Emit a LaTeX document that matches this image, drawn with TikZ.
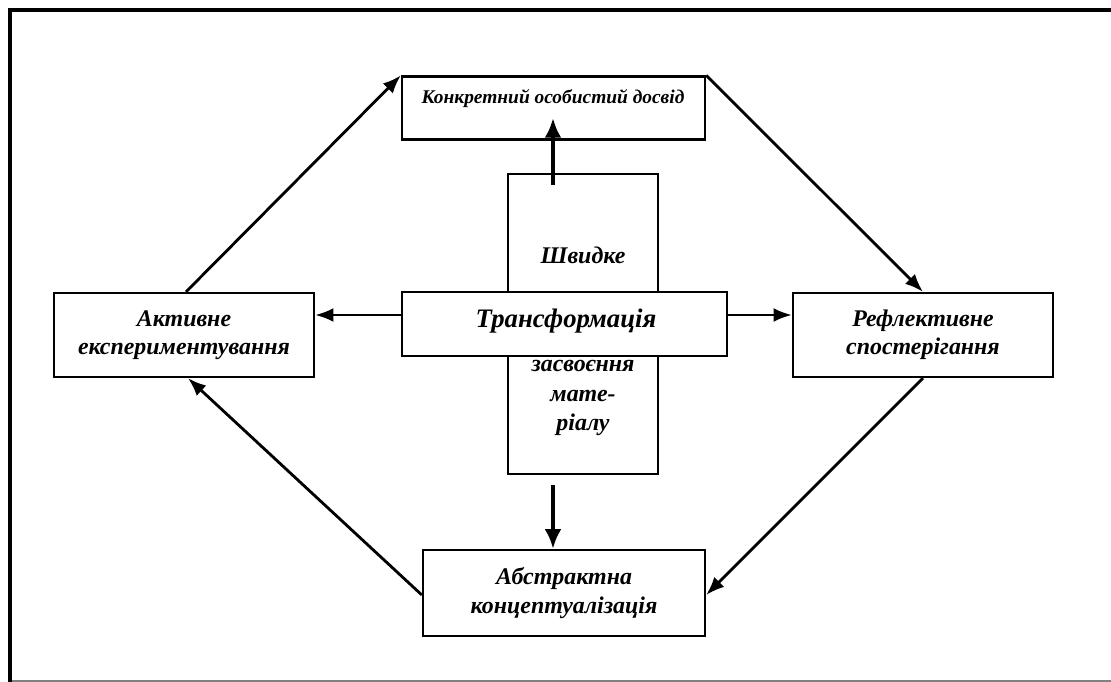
\documentclass[tikz,border=0pt]{standalone}
\usepackage{fontspec}
\setmainfont{Liberation Serif}
\usetikzlibrary{arrows.meta}
\tikzset{
  box/.style={draw,line width=1.6pt,fill=white,inner sep=0pt},
  txt/.style={font=\bfseries\itshape\fontsize{17}{20}\selectfont,align=center},
  arr/.style={line width=2pt,-{Latex[length=13pt,width=10pt]}},
  tharr/.style={line width=3pt,-{Latex[length=14pt,width=12pt]}}
}
\begin{document}
\begin{tikzpicture}[x=0.025cm,y=-0.025cm]
  \useasboundingbox (0,0) rectangle (1111,682);
  % frame
  \draw[line width=3.5pt] (10,682)--(10,10)--(1111,10);
  \draw[gray,line width=0.8pt] (12,681)--(1111,681);
  % boxes
  \node[box,minimum width=7.575cm,minimum height=1.575cm] (top) at (553.5,108) {};
  \node[txt,font=\bfseries\itshape\fontsize{13.8}{17}\selectfont] (toptxt) at (553,99) {Конкретний особистий досвід};
  \node[box,minimum width=3.75cm,minimum height=7.5cm] (vert) at (583,324) {};
  \node[txt] (fast) at (583,255) {Швидке};
  \node[txt,font=\bfseries\itshape\fontsize{17}{21}\selectfont] (rest) at (583,398) {засвоєння\\мате-\\ріалу};
  \node[box,minimum width=8.125cm,minimum height=1.6cm] (trans) at (564.5,324) {};
  \node[txt,font=\bfseries\itshape\fontsize{19}{22}\selectfont] (transtxt) at (566,321) {Трансформація};
  \node[box,txt,minimum width=6.5cm,minimum height=2.1cm] (act) at (184,335) {Активне\\експериментування};
  \node[box,txt,minimum width=6.5cm,minimum height=2.1cm] (refl) at (923,335) {Рефлективне\\спостерігання};
  \node[box,txt,minimum width=7.05cm,minimum height=2.15cm] (abs) at (564,593) {Абстрактна\\концептуалізація};
  % arrows
  \coordinate (upend) at (553,118);
  \draw[tharr] (553,185) -- (upend);
  \draw[tharr] (553,485) -- (abs.north -| 553,0);
  \draw[arr] ([yshift=0.225cm]trans.west) -- ([yshift=0.225cm]trans.west -| act.east);
  \draw[arr] ([yshift=0.225cm]trans.east) -- ([yshift=0.225cm]trans.east -| refl.west);
  \draw[arr] ([xshift=0.05cm]act.north) -- (top.north west);
  \draw[arr] (top.north east) -- (refl.north);
  \draw[arr] (refl.south) -- ([yshift=-0.05cm]abs.east);
  \draw[arr] ([yshift=-0.05cm]abs.west) -- ([xshift=0.1cm]act.south);
\end{tikzpicture}
\end{document}
